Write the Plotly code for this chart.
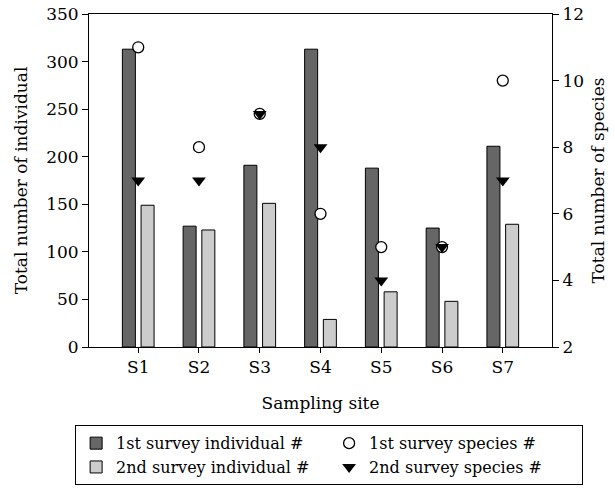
import plotly.graph_objects as go

sites = ["S1", "S2", "S3", "S4", "S5", "S6", "S7"]
ind_1st = [313, 127, 191, 313, 188, 125, 211]
ind_2nd = [149, 123, 151, 29, 58, 48, 129]
sp_1st = [11, 8, 9, 6, 5, 5, 10]
sp_2nd = [7, 7, 9, 8, 4, 5, 7]

FONT = "DejaVu Serif"

fig = go.Figure()
fig.add_trace(go.Bar(x=sites, y=ind_1st, name="1st survey individual #",
                     marker=dict(color="#666666", line=dict(color="black", width=1)),
                     legendrank=1))
fig.add_trace(go.Bar(x=sites, y=ind_2nd, name="2nd survey individual #",
                     marker=dict(color="#cccccc", line=dict(color="black", width=1)),
                     legendrank=3))
fig.add_trace(go.Scatter(x=sites, y=sp_1st, name="1st survey species #", mode="markers",
                         yaxis="y2",
                         marker=dict(symbol="circle", size=11, color="white",
                                     line=dict(color="black", width=1.3)),
                         legendrank=2))
fig.add_trace(go.Scatter(x=sites, y=sp_2nd, name="2nd survey species #", mode="markers",
                         yaxis="y2",
                         marker=dict(symbol="triangle-down", size=12, color="black",
                                     line=dict(color="black", width=0)),
                         legendrank=4))

fig.update_layout(
    width=615, height=490,
    margin=dict(l=89, r=63, t=14, b=143, autoexpand=False),
    paper_bgcolor="white", plot_bgcolor="white",
    font=dict(family=FONT, size=17, color="black"),
    barmode="group", bargap=0.384, bargroupgap=0.305,
    xaxis=dict(range=[-0.81, 6.81], showline=True, linecolor="black", linewidth=1,
               mirror=True, ticks="outside", ticklen=5, tickcolor="black",
               showgrid=False, zeroline=False,
               title=dict(text="Sampling site", font=dict(size=17), standoff=20),
               tickfont=dict(size=17)),
    yaxis=dict(range=[0, 350], dtick=50, showline=True, linecolor="black", linewidth=1,
               ticks="outside", ticklen=6, tickcolor="black", showgrid=False,
               zeroline=False, title=dict(text="Total number of individual", font=dict(size=17), standoff=14),
               tickfont=dict(size=17)),
    yaxis2=dict(range=[2, 12], dtick=2, overlaying="y", side="right", showline=True,
                linecolor="black", linewidth=1, ticks="outside", ticklen=6,
                tickcolor="black", showgrid=False, zeroline=False,
                title=dict(text="Total number of species", font=dict(size=17), standoff=9),
                tickfont=dict(size=17)),
    legend=dict(orientation="h", x=-0.03, y=-0.235, xanchor="left", yanchor="top",
                bordercolor="black", borderwidth=1, bgcolor="white",
                font=dict(size=16), entrywidth=208, entrywidthmode="pixels",
                itemwidth=30, tracegroupgap=0, traceorder="normal"),
    showlegend=True,
)

fig.write_html("out.html")
